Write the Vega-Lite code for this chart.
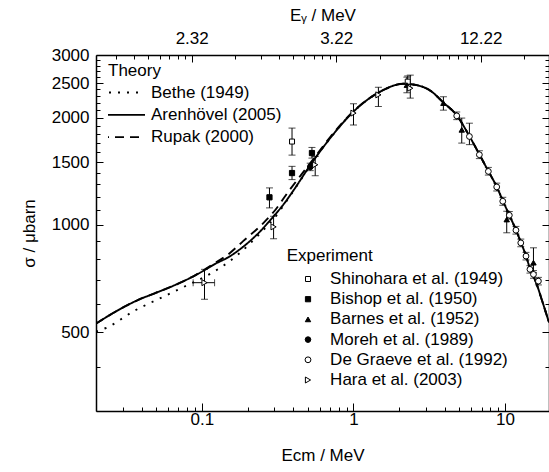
{
  "$schema": "https://vega.github.io/schema/vega-lite/v6.json",
  "width": 453,
  "height": 356,
  "autosize": {"type": "none"},
  "padding": {"left": 96, "top": 55, "right": 0, "bottom": 61},
  "config": {
    "font": "Liberation Sans",
    "view": {"stroke": null},
    "axis": {
      "grid": false,
      "domainColor": "black",
      "domainWidth": 1.5,
      "tickColor": "black",
      "tickWidth": 1,
      "labelColor": "black",
      "titleColor": "black",
      "labelFontSize": 17,
      "titleFontSize": 17,
      "titleFontWeight": "normal",
      "labelFont": "Liberation Sans",
      "titleFont": "Liberation Sans"
    },
    "legend": {
      "labelFontSize": 17,
      "titleFontSize": 17,
      "titleFontWeight": "normal",
      "labelColor": "black",
      "titleColor": "black",
      "labelFont": "Liberation Sans",
      "titleFont": "Liberation Sans",
      "labelLimit": 0
    }
  },
  "datasets": {
    "theory": [
      {"model": "Arenhövel (2005)", "E": 0.02, "sigma": 528},
      {"model": "Arenhövel (2005)", "E": 0.0272, "sigma": 572},
      {"model": "Arenhövel (2005)", "E": 0.0369, "sigma": 612},
      {"model": "Arenhövel (2005)", "E": 0.05, "sigma": 645},
      {"model": "Arenhövel (2005)", "E": 0.0677, "sigma": 680},
      {"model": "Arenhövel (2005)", "E": 0.0918, "sigma": 724},
      {"model": "Arenhövel (2005)", "E": 0.1245, "sigma": 780},
      {"model": "Arenhövel (2005)", "E": 0.15, "sigma": 812},
      {"model": "Arenhövel (2005)", "E": 0.187, "sigma": 868},
      {"model": "Arenhövel (2005)", "E": 0.24, "sigma": 955},
      {"model": "Arenhövel (2005)", "E": 0.297, "sigma": 1057},
      {"model": "Arenhövel (2005)", "E": 0.35, "sigma": 1150},
      {"model": "Arenhövel (2005)", "E": 0.402, "sigma": 1250},
      {"model": "Arenhövel (2005)", "E": 0.518, "sigma": 1470},
      {"model": "Arenhövel (2005)", "E": 0.702, "sigma": 1752},
      {"model": "Arenhövel (2005)", "E": 1.0, "sigma": 2080},
      {"model": "Arenhövel (2005)", "E": 1.5, "sigma": 2367},
      {"model": "Arenhövel (2005)", "E": 2.14, "sigma": 2490},
      {"model": "Arenhövel (2005)", "E": 2.7, "sigma": 2460},
      {"model": "Arenhövel (2005)", "E": 3.2, "sigma": 2385},
      {"model": "Arenhövel (2005)", "E": 3.9, "sigma": 2210},
      {"model": "Arenhövel (2005)", "E": 4.8, "sigma": 2030},
      {"model": "Arenhövel (2005)", "E": 5.82, "sigma": 1775},
      {"model": "Arenhövel (2005)", "E": 6.77, "sigma": 1578},
      {"model": "Arenhövel (2005)", "E": 7.76, "sigma": 1415},
      {"model": "Arenhövel (2005)", "E": 8.81, "sigma": 1280},
      {"model": "Arenhövel (2005)", "E": 9.66, "sigma": 1170},
      {"model": "Arenhövel (2005)", "E": 10.67, "sigma": 1065},
      {"model": "Arenhövel (2005)", "E": 11.8, "sigma": 968},
      {"model": "Arenhövel (2005)", "E": 12.7, "sigma": 895},
      {"model": "Arenhövel (2005)", "E": 13.75, "sigma": 818},
      {"model": "Arenhövel (2005)", "E": 14.6, "sigma": 755},
      {"model": "Arenhövel (2005)", "E": 16.2, "sigma": 680},
      {"model": "Arenhövel (2005)", "E": 17.5, "sigma": 615},
      {"model": "Arenhövel (2005)", "E": 19.5, "sigma": 532},
      {"model": "Bethe (1949)", "E": 0.02, "sigma": 502},
      {"model": "Bethe (1949)", "E": 0.0234, "sigma": 514},
      {"model": "Bethe (1949)", "E": 0.0357, "sigma": 573},
      {"model": "Bethe (1949)", "E": 0.0551, "sigma": 627},
      {"model": "Bethe (1949)", "E": 0.074, "sigma": 666},
      {"model": "Bethe (1949)", "E": 0.1136, "sigma": 729},
      {"model": "Bethe (1949)", "E": 0.151, "sigma": 788},
      {"model": "Bethe (1949)", "E": 0.2013, "sigma": 875},
      {"model": "Bethe (1949)", "E": 0.25, "sigma": 960},
      {"model": "Bethe (1949)", "E": 0.3, "sigma": 1045},
      {"model": "Bethe (1949)", "E": 0.4, "sigma": 1242},
      {"model": "Bethe (1949)", "E": 0.518, "sigma": 1468},
      {"model": "Bethe (1949)", "E": 0.702, "sigma": 1752},
      {"model": "Bethe (1949)", "E": 1.0, "sigma": 2080},
      {"model": "Bethe (1949)", "E": 1.5, "sigma": 2367},
      {"model": "Bethe (1949)", "E": 2.14, "sigma": 2490},
      {"model": "Bethe (1949)", "E": 2.7, "sigma": 2460},
      {"model": "Bethe (1949)", "E": 3.2, "sigma": 2385},
      {"model": "Bethe (1949)", "E": 3.9, "sigma": 2210},
      {"model": "Bethe (1949)", "E": 4.8, "sigma": 2030},
      {"model": "Bethe (1949)", "E": 5.82, "sigma": 1775},
      {"model": "Bethe (1949)", "E": 6.77, "sigma": 1578},
      {"model": "Bethe (1949)", "E": 7.76, "sigma": 1415},
      {"model": "Bethe (1949)", "E": 8.81, "sigma": 1280},
      {"model": "Bethe (1949)", "E": 9.66, "sigma": 1170},
      {"model": "Bethe (1949)", "E": 10.67, "sigma": 1065},
      {"model": "Bethe (1949)", "E": 11.8, "sigma": 968},
      {"model": "Bethe (1949)", "E": 12.7, "sigma": 895},
      {"model": "Bethe (1949)", "E": 13.75, "sigma": 818},
      {"model": "Bethe (1949)", "E": 14.6, "sigma": 755},
      {"model": "Bethe (1949)", "E": 16.2, "sigma": 680},
      {"model": "Bethe (1949)", "E": 17.5, "sigma": 615},
      {"model": "Bethe (1949)", "E": 19.5, "sigma": 532},
      {"model": "Rupak (2000)", "E": 0.02, "sigma": 528},
      {"model": "Rupak (2000)", "E": 0.0272, "sigma": 572},
      {"model": "Rupak (2000)", "E": 0.0369, "sigma": 612},
      {"model": "Rupak (2000)", "E": 0.05, "sigma": 645},
      {"model": "Rupak (2000)", "E": 0.0677, "sigma": 680},
      {"model": "Rupak (2000)", "E": 0.0918, "sigma": 725},
      {"model": "Rupak (2000)", "E": 0.12, "sigma": 778},
      {"model": "Rupak (2000)", "E": 0.149, "sigma": 826},
      {"model": "Rupak (2000)", "E": 0.187, "sigma": 900},
      {"model": "Rupak (2000)", "E": 0.255, "sigma": 1013},
      {"model": "Rupak (2000)", "E": 0.3, "sigma": 1092},
      {"model": "Rupak (2000)", "E": 0.373, "sigma": 1242},
      {"model": "Rupak (2000)", "E": 0.45, "sigma": 1380},
      {"model": "Rupak (2000)", "E": 0.55, "sigma": 1540},
      {"model": "Rupak (2000)", "E": 0.702, "sigma": 1765},
      {"model": "Rupak (2000)", "E": 1.0, "sigma": 2085},
      {"model": "Rupak (2000)", "E": 1.5, "sigma": 2367},
      {"model": "Rupak (2000)", "E": 2.14, "sigma": 2490},
      {"model": "Rupak (2000)", "E": 2.7, "sigma": 2460},
      {"model": "Rupak (2000)", "E": 3.2, "sigma": 2385},
      {"model": "Rupak (2000)", "E": 3.9, "sigma": 2210},
      {"model": "Rupak (2000)", "E": 4.8, "sigma": 2030},
      {"model": "Rupak (2000)", "E": 5.82, "sigma": 1775},
      {"model": "Rupak (2000)", "E": 6.77, "sigma": 1578},
      {"model": "Rupak (2000)", "E": 7.76, "sigma": 1415},
      {"model": "Rupak (2000)", "E": 8.81, "sigma": 1280},
      {"model": "Rupak (2000)", "E": 9.66, "sigma": 1170},
      {"model": "Rupak (2000)", "E": 10.67, "sigma": 1065},
      {"model": "Rupak (2000)", "E": 11.8, "sigma": 968},
      {"model": "Rupak (2000)", "E": 12.7, "sigma": 895},
      {"model": "Rupak (2000)", "E": 13.75, "sigma": 818},
      {"model": "Rupak (2000)", "E": 14.6, "sigma": 755},
      {"model": "Rupak (2000)", "E": 16.2, "sigma": 680},
      {"model": "Rupak (2000)", "E": 17.5, "sigma": 615},
      {"model": "Rupak (2000)", "E": 19.5, "sigma": 532}
    ],
    "points": [
      {"source": "Shinohara et al. (1949)", "E": 0.393, "sigma": 1714, "lo": 1570, "hi": 1870},
      {"source": "Shinohara et al. (1949)", "E": 2.28, "sigma": 2525, "lo": 2440, "hi": 2620},
      {"source": "Bishop et al. (1950)", "E": 0.279, "sigma": 1195, "lo": 1116, "hi": 1270},
      {"source": "Bishop et al. (1950)", "E": 0.393, "sigma": 1398, "lo": 1340, "hi": 1460},
      {"source": "Bishop et al. (1950)", "E": 0.532, "sigma": 1591, "lo": 1540, "hi": 1650},
      {"source": "Barnes et al. (1952)", "E": 2.25, "sigma": 2470, "lo": 2350, "hi": 2600},
      {"source": "Barnes et al. (1952)", "E": 3.92, "sigma": 2198, "lo": 2100, "hi": 2290},
      {"source": "Barnes et al. (1952)", "E": 5.18, "sigma": 1849, "lo": 1697, "hi": 1995},
      {"source": "Barnes et al. (1952)", "E": 10.26, "sigma": 1035, "lo": 950, "hi": 1092},
      {"source": "Barnes et al. (1952)", "E": 15.4, "sigma": 783, "lo": 734, "hi": 862},
      {"source": "Moreh et al. (1989)", "E": 0.518, "sigma": 1454, "lo": 1420, "hi": 1490},
      {"source": "De Graeve et al. (1992)", "E": 4.8, "sigma": 2024, "lo": 1975, "hi": 2075},
      {"source": "De Graeve et al. (1992)", "E": 5.82, "sigma": 1771, "lo": 1680, "hi": 1930},
      {"source": "De Graeve et al. (1992)", "E": 6.77, "sigma": 1574, "lo": 1535, "hi": 1615},
      {"source": "De Graeve et al. (1992)", "E": 7.76, "sigma": 1413, "lo": 1380, "hi": 1450},
      {"source": "De Graeve et al. (1992)", "E": 8.81, "sigma": 1278, "lo": 1245, "hi": 1310},
      {"source": "De Graeve et al. (1992)", "E": 9.66, "sigma": 1165, "lo": 1135, "hi": 1195},
      {"source": "De Graeve et al. (1992)", "E": 10.67, "sigma": 1064, "lo": 1038, "hi": 1090},
      {"source": "De Graeve et al. (1992)", "E": 11.8, "sigma": 966, "lo": 942, "hi": 990},
      {"source": "De Graeve et al. (1992)", "E": 12.7, "sigma": 890, "lo": 868, "hi": 912},
      {"source": "De Graeve et al. (1992)", "E": 13.75, "sigma": 817, "lo": 797, "hi": 837},
      {"source": "De Graeve et al. (1992)", "E": 14.6, "sigma": 750, "lo": 732, "hi": 768},
      {"source": "De Graeve et al. (1992)", "E": 15.4, "sigma": 726, "lo": 708, "hi": 744},
      {"source": "De Graeve et al. (1992)", "E": 16.6, "sigma": 695, "lo": 678, "hi": 712},
      {"source": "Hara et al. (2003)", "E": 0.104, "sigma": 688, "lo": 618, "hi": 750, "xlo": 0.0875, "xhi": 0.1212},
      {"source": "Hara et al. (2003)", "E": 0.297, "sigma": 987, "lo": 914, "hi": 1057},
      {"source": "Hara et al. (2003)", "E": 0.559, "sigma": 1475, "lo": 1374, "hi": 1556},
      {"source": "Hara et al. (2003)", "E": 1.0, "sigma": 2060, "lo": 1907, "hi": 2187},
      {"source": "Hara et al. (2003)", "E": 1.46, "sigma": 2318, "lo": 2150, "hi": 2435},
      {"source": "Hara et al. (2003)", "E": 2.37, "sigma": 2420, "lo": 2270, "hi": 2634}
    ],
    "topaxis": [
      {"Eg": 1, "sigma": 1000}
    ]
  },
  "layer": [
    {
      "layer": [
        {
          "data": {"name": "theory"},
          "mark": {"type": "line", "color": "black", "strokeWidth": 1.9, "strokeCap": "butt", "clip": true, "interpolate": "monotone"},
          "encoding": {
            "x": {
              "field": "E", "type": "quantitative", "title": "Ecm / MeV",
              "scale": {"type": "log", "domain": [0.02, 19.5], "nice": false},
              "axis": {
                "orient": "bottom",
                "values": [0.02, 0.03, 0.04, 0.05, 0.06, 0.07, 0.08, 0.09, 0.1, 0.2, 0.3, 0.4, 0.5, 0.6, 0.7, 0.8, 0.9, 1, 2, 3, 4, 5, 6, 7, 8, 9, 10],
                "labelExpr": "datum.value == 0.1 ? '0.1' : datum.value == 1 ? '1' : datum.value == 10 ? '10' : ''",
                "tickSize": {"condition": {"test": "datum.value == 0.1 || datum.value == 1 || datum.value == 10", "value": -8}, "value": -4},
                "labelPadding": 8,
                "titlePadding": 16,
                "labelFlush": false,
                "labelOverlap": false
              }
            },
            "y": {
              "field": "sigma", "type": "quantitative", "title": "σ / μbarn",
              "scale": {"type": "log", "domain": [300, 3000], "nice": false},
              "axis": {
                "orient": "left",
                "values": [400, 500, 600, 700, 800, 900, 1000, 1100, 1200, 1300, 1400, 1500, 1600, 1700, 1800, 1900, 2000, 2100, 2200, 2300, 2400, 2500, 2600, 2700, 2800, 2900, 3000],
                "labelExpr": "datum.value % 500 == 0 ? '' + datum.value : ''",
                "tickSize": {"condition": {"test": "datum.value % 500 == 0", "value": -7}, "value": -4},
                "labelPadding": 14,
                "titlePadding": 13,
                "labelFlush": false,
                "labelOverlap": false
              }
            },
            "strokeDash": {
              "field": "model", "type": "nominal",
              "scale": {"domain": ["Bethe (1949)", "Arenhövel (2005)", "Rupak (2000)"], "range": [[2, 7], [1, 0], [9, 6]]},
              "legend": {
                "title": "Theory", "orient": "none", "legendX": 12, "legendY": 8,
                "symbolType": "stroke", "symbolSize": 2025, "symbolStrokeWidth": 1.8, "symbolStrokeColor": "black",
                "symbolOffset": -9, "labelOffset": 5, "titlePadding": 4, "rowPadding": 4.3, "padding": 0,
                "clipHeight": 17
              }
            }
          }
        },
        {
          "data": {"name": "points"},
          "transform": [{"filter": "datum.lo != null"}],
          "mark": {"type": "errorbar", "color": "black", "thickness": 1, "ticks": {"size": 7, "color": "black"}},
          "encoding": {
            "x": {"field": "E", "type": "quantitative", "title": "Ecm / MeV"},
            "y": {"field": "lo", "type": "quantitative", "title": "σ / μbarn"},
            "y2": {"field": "hi"}
          }
        },
        {
          "data": {"name": "points"},
          "transform": [{"filter": "datum.xlo != null"}],
          "mark": {"type": "errorbar", "color": "black", "thickness": 1, "ticks": {"size": 7, "color": "black"}},
          "encoding": {
            "y": {"field": "sigma", "type": "quantitative", "title": "σ / μbarn"},
            "x": {"field": "xlo", "type": "quantitative", "title": "Ecm / MeV"},
            "x2": {"field": "xhi"}
          }
        },
        {
          "data": {"name": "points"},
          "mark": {"type": "point", "filled": true, "strokeWidth": 1, "opacity": 1},
          "encoding": {
            "x": {"field": "E", "type": "quantitative", "title": "Ecm / MeV"},
            "y": {"field": "sigma", "type": "quantitative", "title": "σ / μbarn"},
            "shape": {
              "field": "source", "type": "nominal",
              "scale": {"domain": ["Shinohara et al. (1949)", "Bishop et al. (1950)", "Barnes et al. (1952)", "Moreh et al. (1989)", "De Graeve et al. (1992)", "Hara et al. (2003)"], "range": ["square", "square", "triangle-up", "circle", "circle", "triangle-right"]},
              "legend": {
                "title": "Experiment", "orient": "none", "legendX": 190.7, "legendY": 192.5,
                "symbolOffset": 12.8, "labelOffset": 13.6, "titlePadding": 6, "rowPadding": 2.2, "padding": 0,
                "symbolStrokeColor": "black", "symbolStrokeWidth": 1
              }
            },
            "fill": {
              "field": "source", "type": "nominal",
              "scale": {"domain": ["Shinohara et al. (1949)", "Bishop et al. (1950)", "Barnes et al. (1952)", "Moreh et al. (1989)", "De Graeve et al. (1992)", "Hara et al. (2003)"], "range": ["white", "black", "black", "black", "white", "white"]},
              "legend": {
                "title": "Experiment", "orient": "none", "legendX": 190.7, "legendY": 192.5,
                "symbolOffset": 12.8, "labelOffset": 13.6, "titlePadding": 6, "rowPadding": 2.2, "padding": 0,
                "symbolStrokeColor": "black", "symbolStrokeWidth": 1
              }
            },
            "stroke": {
              "field": "source", "type": "nominal",
              "scale": {"domain": ["Shinohara et al. (1949)", "Bishop et al. (1950)", "Barnes et al. (1952)", "Moreh et al. (1989)", "De Graeve et al. (1992)", "Hara et al. (2003)"], "range": ["black", "black", "black", "black", "black", "black"]},
              "legend": {
                "title": "Experiment", "orient": "none", "legendX": 190.7, "legendY": 192.5,
                "symbolOffset": 12.8, "labelOffset": 13.6, "titlePadding": 6, "rowPadding": 2.2, "padding": 0,
                "symbolStrokeWidth": 1
              }
            },
            "size": {
              "field": "source", "type": "nominal",
              "scale": {"domain": ["Shinohara et al. (1949)", "Bishop et al. (1950)", "Barnes et al. (1952)", "Moreh et al. (1989)", "De Graeve et al. (1992)", "Hara et al. (2003)"], "range": [25, 36, 64, 64, 100, 50]},
              "legend": {
                "title": "Experiment", "orient": "none", "legendX": 190.7, "legendY": 192.5,
                "symbolOffset": 12.8, "labelOffset": 13.6, "titlePadding": 6, "rowPadding": 2.2, "padding": 0,
                "symbolStrokeColor": "black", "symbolStrokeWidth": 1
              }
            }
          }
        }
      ]
    },
    {
      "data": {"name": "topaxis"},
      "mark": {"type": "point", "opacity": 0},
      "encoding": {
        "x": {
          "field": "Eg", "type": "quantitative", "title": "Eᵧ / MeV",
          "scale": {"type": "log", "domain": [0.02177, 29.7], "nice": false},
          "axis": {
            "orient": "top",
            "values": [0.03, 0.04, 0.05, 0.06, 0.07, 0.08, 0.09, 0.1, 0.2, 0.3, 0.4, 0.5, 0.6, 0.7, 0.8, 0.9, 1, 2, 3, 4, 5, 6, 7, 8, 9, 10, 20],
            "labelExpr": "datum.value == 0.1 ? '2.32' : datum.value == 1 ? '3.22' : datum.value == 10 ? '12.22' : ''",
            "tickSize": {"condition": {"test": "datum.value == 0.1 || datum.value == 1 || datum.value == 10", "value": -7}, "value": -4},
            "labelPadding": 15,
            "titlePadding": 2,
            "labelFlush": false,
            "labelOverlap": false
          }
        },
        "y": {
          "field": "sigma", "type": "quantitative", "title": null,
          "scale": {"type": "log", "domain": [300, 3000], "nice": false},
          "axis": {
            "orient": "right",
            "title": null,
            "labels": false,
            "values": [400, 500, 600, 700, 800, 900, 1000, 1100, 1200, 1300, 1400, 1500, 1600, 1700, 1800, 1900, 2000, 2100, 2200, 2300, 2400, 2500, 2600, 2700, 2800, 2900, 3000],
            "tickSize": {"condition": {"test": "datum.value % 500 == 0", "value": -7}, "value": -4}
          }
        }
      }
    }
  ],
  "resolve": {"scale": {"x": "independent"}, "axis": {"y": "independent"}}
}
